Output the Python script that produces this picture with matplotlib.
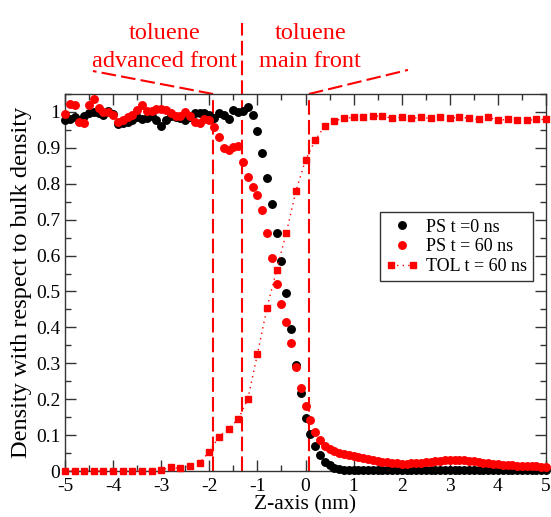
import numpy as np
import matplotlib
matplotlib.use("Agg")
import matplotlib.pyplot as plt
from matplotlib.legend_handler import HandlerLine2D
from matplotlib.ticker import MultipleLocator, FuncFormatter

# ---------------- data ----------------
z_ps = np.round(np.arange(-5.0, 5.0001, 0.1), 2)

ps_t0 = [
    0.977, 0.980, 0.985, 0.978, 0.990, 0.998, 1.001, 0.996, 0.992, 1.004,
    0.995, 0.966, 0.970, 0.973, 0.978, 0.986, 0.980, 0.984, 0.990, 0.977,
    0.961, 0.977, 0.990, 0.985, 0.982, 0.977, 0.985, 0.996, 0.996, 0.996,
    0.992, 0.982, 0.998, 0.992, 0.980, 1.005, 1.001, 1.003, 1.013, 0.992,
    0.947, 0.886, 0.815, 0.745, 0.664, 0.585, 0.496, 0.395, 0.296, 0.216,
    0.149, 0.104, 0.069, 0.044, 0.026, 0.016, 0.009, 0.005, 0.003, 0.002,
    0.002, 0.002, 0.002, 0.002, 0.002, 0.002, 0.002, 0.002, 0.002, 0.002,
    0.002, 0.002, 0.002, 0.002, 0.002, 0.002, 0.002, 0.002, 0.002, 0.002,
    0.002, 0.002, 0.002, 0.002, 0.002, 0.002, 0.002, 0.002, 0.002, 0.002,
    0.002, 0.002, 0.002, 0.002, 0.002, 0.002, 0.002, 0.002, 0.002, 0.002,
    0.002,
]

ps_t60 = [
    0.995, 1.021, 1.020, 0.973, 0.968, 1.020, 1.035, 1.012, 1.001, 1.000,
    0.992, 0.973, 0.977, 0.985, 0.992, 1.006, 1.020, 1.003, 1.003, 1.008,
    1.008, 1.006, 0.996, 0.990, 0.990, 1.000, 0.990, 0.973, 0.968, 0.980,
    0.977, 0.958, 0.931, 0.899, 0.894, 0.903, 0.906, 0.862, 0.820, 0.792,
    0.769, 0.727, 0.662, 0.593, 0.522, 0.466, 0.415, 0.357, 0.290, 0.232,
    0.180, 0.142, 0.110, 0.086, 0.070, 0.060, 0.055, 0.050, 0.047, 0.044,
    0.041, 0.039, 0.036, 0.033, 0.031, 0.029, 0.026, 0.024, 0.022, 0.021,
    0.020, 0.020, 0.021, 0.022, 0.023, 0.025, 0.026, 0.028, 0.029, 0.030,
    0.031, 0.031, 0.031, 0.030, 0.029, 0.027, 0.025, 0.023, 0.021, 0.020,
    0.019, 0.018, 0.017, 0.016, 0.015, 0.015, 0.014, 0.013, 0.013, 0.012,
    0.012,
]

z_tol = np.round(np.arange(-5.0, 5.0001, 0.2), 2)
tol_t60 = [
    0.000, 0.000, 0.000, 0.000, 0.000, 0.000, 0.000, 0.000, 0.000, 0.000,
    0.003, 0.010, 0.007, 0.014, 0.023, 0.054, 0.095, 0.118, 0.144, 0.200,
    0.325, 0.455, 0.560, 0.663, 0.779, 0.866, 0.921, 0.961, 0.975, 0.982,
    0.985, 0.986, 0.988, 0.989, 0.982, 0.985, 0.982, 0.985, 0.982, 0.986,
    0.982, 0.986, 0.982, 0.979, 0.985, 0.977, 0.979, 0.978, 0.977, 0.979,
    0.979,
]

front_lines = [-1.92, -1.31, 0.07]
labels = ["PS t =0 ns", "PS t = 60 ns", "TOL t = 60 ns"]

# ---------------- figure ----------------
plt.rcParams['font.family'] = ['Liberation Serif', 'DejaVu Serif']
fig = plt.figure(figsize=(5.51, 5.17), dpi=100)
ax = fig.add_axes([65/551, 46/517, 481/551, 377/517])

red = '#ff0000'
l0, = ax.plot(z_ps, ps_t0, 'o', color='black', ms=5.4, mec='black', label=labels[0],
              clip_on=False, zorder=3)
l1, = ax.plot(z_ps, ps_t60, 'o', color=red, ms=5.4, mec=red, label=labels[1],
              clip_on=False, zorder=4)
l2, = ax.plot(z_tol, tol_t60, linestyle=(0, (1, 3)), lw=1.0, color=red, marker='s',
              ms=4.0, mec=red, label=labels[2], clip_on=False, zorder=5)

dash = (0, (7, 2.5))
ytop = 1.05
# vertical front lines
ax.plot([front_lines[0]] * 2, [0, ytop], color=red, lw=1.5, ls=dash, clip_on=False, zorder=2)
ax.plot([front_lines[1]] * 2, [0, 1.247], color=red, lw=1.5, ls=dash, clip_on=False, zorder=2)
ax.plot([front_lines[2]] * 2, [0, ytop], color=red, lw=1.5, ls=dash, clip_on=False, zorder=2)
# diagonal leaders above the plot
ax.plot([front_lines[0], -4.42], [ytop, 1.114], color=red, lw=1.5, ls=dash, clip_on=False)
ax.plot([front_lines[2], 2.13], [ytop, 1.117], color=red, lw=1.5, ls=dash, clip_on=False)

ax.text(-2.93, 1.18, "toluene\nadvanced front", color=red, fontsize=17.5,
        ha='center', va='center', linespacing=1.4)
ax.text(0.1, 1.18, "toluene\nmain front", color=red, fontsize=17.5,
        ha='center', va='center', linespacing=1.4)

ax.set_xlim(-5, 5)
ax.set_ylim(0, ytop)
ax.xaxis.set_major_locator(MultipleLocator(1))
ax.xaxis.set_minor_locator(MultipleLocator(0.5))
ax.yaxis.set_major_locator(MultipleLocator(0.1))
ax.yaxis.set_minor_locator(MultipleLocator(0.05))
ax.xaxis.set_major_formatter(FuncFormatter(lambda v, p: f"{v:g}"))
ax.yaxis.set_major_formatter(FuncFormatter(lambda v, p: f"{round(v, 2):g}"))
ax.tick_params(which='both', direction='in', top=True, right=True, labelsize=14,
               color='#333333')
ax.tick_params(which='major', length=8, width=1)
ax.tick_params(which='minor', length=4, width=1)
ax.tick_params(axis='x', which='major', pad=5)
for s in ax.spines.values():
    s.set_color('#333333')
    s.set_linewidth(1.0)

ax.set_xlabel("Z-axis (nm)", fontsize=15.5, labelpad=0)
ax.set_ylabel("Density with respect to bulk density", fontsize=17.5, labelpad=3)

leg = ax.legend(handles=[l0, l1, l2], loc='upper left', bbox_to_anchor=(0.654, 0.686),
                numpoints=1, handler_map={l2: HandlerLine2D(numpoints=2)},
                fontsize=13, frameon=True, fancybox=False, framealpha=1,
                edgecolor='#333333', borderpad=0.35, labelspacing=0.15,
                handlelength=1.8, handletextpad=0.4, borderaxespad=0)
leg.get_frame().set_linewidth(1.0)

fig.savefig("out.png", dpi=100)
